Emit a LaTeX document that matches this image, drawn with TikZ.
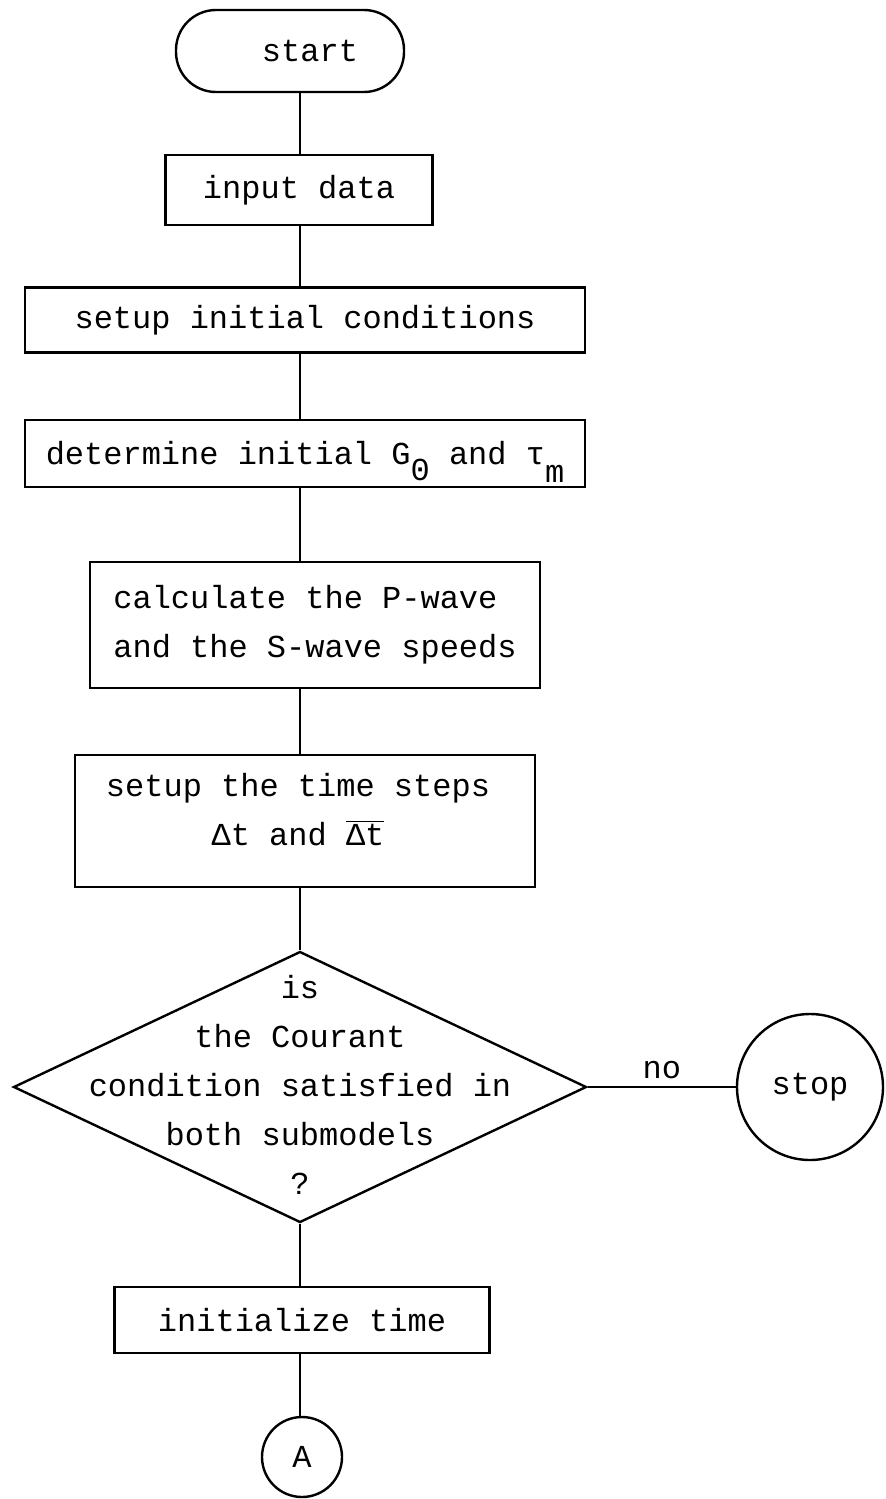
\documentclass[tikz,border=0pt]{standalone}
\usepackage{fontspec}
\setmainfont{Liberation Mono}
\usetikzlibrary{shapes.geometric}
\begin{document}
\begin{tikzpicture}[x=0.5pt,y=-0.5pt,
  every node/.style={font=\fontsize{16}{24.5}\selectfont},
  line/.style={line width=1.2pt},
  box/.style={draw,line width=1.2pt,inner sep=0pt},
  ring/.style={draw,circle,line width=1.2pt,inner sep=0pt},
]
\useasboundingbox (0,0) rectangle (885,1499);
\coordinate (ax) at (300,0);
\node[box,rounded corners=20pt,minimum width=114pt,minimum height=41pt] (start) at (290,51) {\hspace*{20pt}start};
\node[box,minimum width=133.5pt,minimum height=35pt] (input) at (299,190) {input data};
\node[box,minimum width=280pt,minimum height=32.5pt] (setup) at (305,320) {setup initial conditions};
\node[box,minimum width=280pt,minimum height=33.5pt] (det) at (305,453.5) {determine initial G\smash{\raisebox{-8pt}{0}} and τ\smash{\raisebox{-9pt}{m}}};
\node[box,minimum width=225pt,minimum height=63pt,align=left] (calc) at (315,625) {calculate the P-wave\\and the S-wave speeds};
\node[box,minimum width=230pt,minimum height=66pt] (ts) at (305,821) {};
\node[align=center] (tstext) at (298,810) {setup the time steps\\Δt and $\overline{\hbox{Δt}}$};
\node[draw,diamond,line width=1.2pt,minimum width=286.5pt,minimum height=135.5pt,inner sep=0pt] (dec) at (300,1087) {};
\node[align=center] (dectext) at (300,1085) {is\\the Courant\\condition satisfied in\\both submodels\\?};
\node[ring,minimum size=73pt] (stop) at (810,1087) {stop};
\node[box,minimum width=187.5pt,minimum height=33pt] (init) at (302,1320) {initialize time};
\node[ring,minimum size=40pt] (A) at (302,1457) {A};
\draw[line] (start.south -| ax) -- (input.north -| ax);
\draw[line] (input.south -| ax) -- (setup.north -| ax);
\draw[line] (setup.south -| ax) -- (det.north -| ax);
\draw[line] (det.south -| ax) -- (calc.north -| ax);
\draw[line] (calc.south -| ax) -- (ts.north -| ax);
\draw[line] (ts.south -| ax) -- (dec.north);
\draw[line] (dec.east) -- node[above] (no) {no} (stop.west);
\draw[line] (dec.south) -- (init.north -| ax);
\draw[line] (init.south -| ax) -- (A.north -| ax);
\end{tikzpicture}
\end{document}
